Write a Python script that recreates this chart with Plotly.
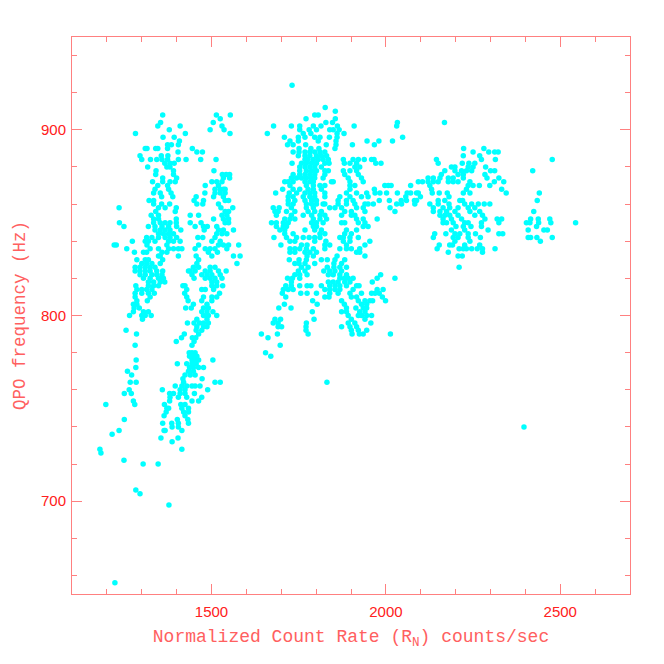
import plotly.graph_objects as go

# Each row: (QPO frequency in Hz, [normalized count rates])
left_upper = [
(908,[1360,1514,1554]),(906,[1525]),(904,[1354,1505]),(902,[1346,1410,1530]),(900,[1379,1496,1536]),
(898,[1282,1425,1553]),(896,[1361,1393]),(894,[1408]),(892,[1374,1385,1405]),(890,[1374,1310,1315,1340,1346,1445]),
(888,[1404,1458,1474]),(886,[1295,1356,1375]),(884,[1300,1325,1343,1358,1374,1405,1427,1469,1513]),(882,[1366,1381,1393]),
(880,[1317,1372,1381]),(878,[1341,1391,1507]),(876,[1340,1391,1531,1542,1552]),(874,[1360,1400,1534,1552]),
(872,[1331,1360,1381,1396,1501,1515,1530]),(870,[1346,1374,1482,1520]),(868,[1338,1377,1510,1525,1534,1539]),
(866,[1334,1353,1384,1481,1510,1525,1539]),(864,[1357,1389,1506,1534,1456]),(862,[1321,1334,1450,1477,1539,1549]),
(860,[1334,1357,1380,1458,1475,1520]),(858,[1235,1348,1367,1399,1527,1561]),(856,[1340,1396,1539,1549]),
(854,[1327,1348,1439,1463,1530,1544]),(852,[1334,1348,1399,1506,1534,1549]),
(850,[1236,1334,1353,1367,1381,1399,1470,1439,1539,1549]),(848,[1249,1319,1338,1358,1377,1400,1453,1477,1488,1515]),
(846,[1338,1353,1367,1381,1412,1479,1520,1534,1563]),(844,[1348,1362,1377,1391,1515,1530,1544]),
(842,[1314,1329,1348,1367,1381,1400,1461,1475,1510]),(840,[1310,1319,1338,1377,1391,1410,1273,1501,1525]),
(838,[1221,1227,1315,1372,1463,1520,1534,1549,1578]),(836,[1257,1324,1348,1377,1391,1405,1415,1453,1482,1496,1510,1544]),
(834,[1279,1305,1314,1358,1372,1491,1517]),(832,[1348,1353,1405,1501,1456,1563,1582]),(830,[1310,1319,1360,1286,1463]),
(828,[1300,1314,1329,1353,1458,1573]),(826,[1281,1295,1310,1324,1338,1448,1463,1496,1510]),(824,[1360,1439,1482,1542]),
]
left_lower = [
(824,[1281,1295,1310,1324,1343,1434,1453,1496,1520]),(822,[1295,1310,1329,1343,1358,1444,1472,1487,1501,1525]),
(820,[1305,1324,1348,1362,1450,1482,1496,1510,1530]),(818,[1319,1334,1353,1366,1501,1515]),
(816,[1283,1319,1334,1348,1418,1424,1501,1515,1532]),(814,[1286,1300,1314,1329,1429,1472,1482,1506]),
(812,[1281,1300,1319,1336,1423,1523]),(810,[1281,1324,1429,1477,1501,1515]),(808,[1286,1316,1433,1472,1501]),
(806,[1276,1286,1448,1487]),(804,[1278,1293,1426,1442,1477,1491]),(802,[1276,1305,1319,1472,1487,1504]),
(800,[1265,1300,1310,1327,1477,1491,1515]),(798,[1302,1458,1487]),(796,[1431,1450,1466,1477,1491]),(794,[1458,1477,1487]),
(792,[1255,1456,1472]),(790,[1285,1422,1463]),(788,[1414,1445,1455]),(786,[1399,1450]),(784,[1281,1444]),
(780,[1436,1444,1453]),(778,[1437,1448,1458]),(776,[1284,1444,1453,1463,1504]),(774,[1402,1429,1444,1456]),
(772,[1283,1437,1448,1463,1477]),(770,[1259,1434,1448]),(768,[1271,1424,1439,1453]),(766,[1418,1473]),
(764,[1267,1284,1420,1510,1525]),(762,[1396,1415,1429,1444,1453,1467]),(760,[1264,1359,1410,1424,1489]),
(758,[1250,1270,1380,1391,1410,1424,1451]),(756,[1381,1405,1429,1472]),(754,[1276,1380,1444,1463]),
(752,[1280,1197,1365,1412,1424]),(750,[1372,1377,1415,1434]),(748,[1370,1420,1434]),(746,[1364,1424]),
(744,[1250,1402,1432]),(742,[1360,1386,1405,1434]),(740,[1405,1387]),(738,[1235,1367,1364,1415]),
(736,[1215]),(734,[1355,1404]),(732,[1387]),(728,[1180,1415]),(726,[1183]),(722,[1249]),(720,[1304,1347]),
(706,[1283]),(704,[1295]),(698,[1378]),(656,[1223]),
]
middle_upper = [
(924,[1731]),(912,[1826]),(910,[1855]),(908,[1796,1806]),(906,[1771,1855]),(904,[1828,1847,2033]),
(902,[1678,1729,1753,1792,1814,1861,1909,2031]),(900,[1753,1780,1801,1839,1849,1866]),(898,[1660,1763,1785,1860,1880]),
(896,[1709,1749,1768,1796,1811,1838,1860,2048]),(894,[1725,1749,1806,1857,1946,1980,2019]),
(892,[1718,1734,1770,1829,1857,1904,1967]),(890,[1751,1785,1808,1854]),(888,[1734,1751,1768,1782,1796,1811,1825]),
(886,[1749,1768,1782,1801,1815,1830]),(884,[1768,1777,1792,1806,1820,1835,1878,1906,1921,1938,1959,1966]),
(882,[1731,1758,1772,1787,1801,1825,1837,1881,1897,1916,1971,1986]),(880,[1753,1768,1782,1796,1815,1911,1925]),
(878,[1753,1772,1787,1801,1825,1835,1878,1897,1916]),(876,[1734,1753,1768,1782,1796,1825,1882,1921]),
(874,[1729,1744,1758,1772,1787,1796,1820,1892,1930]),(872,[1710,1720,1734,1768,1782,1792,1844,1849,1897,1935]),
(870,[1725,1772,1792,1811,1825,1897,1911,1997,2007,2015]),(868,[1704,1734,1753,1777,1792,1815,1897,1967]),
(866,[1684,1723,1744,1768,1782,1796,1825,1887,1916,1945,1969,1983,2002,2033,2071,2093]),
(864,[1720,1734,1763,1782,1796,1825,1868,1897,1930,1949]),
(862,[1720,1739,1768,1787,1801,1863,1887,1906,1981,2010,2059,2088]),
(860,[1720,1734,1772,1787,1801,1820,1825,1863,1887,1911,1940,1949,1964,2031,2045,2083]),
(858,[1677,1694,1729,1772,1792,1839,1854,1873,1916,1935,2012]),(856,[1682,1691,1715,1739,1777,1796,1815,1882,1901,1940,2026]),
(854,[1686,1729,1763,1787,1811,1825,1873,1901,1911]),(852,[1710,1725,1739,1792,1811,1830,1916,1935,1975]),
(850,[1672,1686,1706,1720,1787,1801,1820,1873,1882,1921,1940]),(848,[1686,1706,1715,1792,1801,1935,1949]),
(846,[1696,1710,1768,1796,1815,1887,1916]),(844,[1710,1734,1811,1825,1882,1901]),
(842,[1679,1715,1744,1763,1780,1796,1811,1868,1878,1897,1921]),(840,[1725,1739,1796,1828,1878,1897,1954]),
(838,[1699,1758,1774,1825,1839,1940,1887]),
]
middle_lower = [
(836,[1725,1739,1753,1772,1792,1825,1868,1887,1901,1925]),(834,[1725,1739,1768,1782,1801,1916,1925]),
(832,[1774,1792,1860,1940]),(830,[1723,1751,1772,1815,1832,1854,1882]),(828,[1739,1751,1768,1796,1851,1873]),
(826,[1758,1777,1832,1851,1868,1887]),(824,[1749,1768,1822,1839,1854,1873]),(822,[1739,1753,1774,1835,1849,1868,1887,1985]),
(820,[1718,1732,1753,1868,1881,1892,1906,1975,2026]),(818,[1729,1835,1849,1863,1882,1897,1961]),
(816,[1713,1729,1753,1774,1785,1815,1839,1854,1868,1887,1916,1923]),(814,[1706,1720,1734,1825,1839,1854,1868,1906,1975,1992]),
(812,[1703,1756,1774,1801,1839,1863,1897,1930,1959,1969,1981]),(810,[1713,1825,1837,1901,1916,1990]),
(808,[1790,1873,1921,1940,1954,1962,1999]),(806,[1709,1803,1881,1930,1945]),(804,[1693,1728,1887,1914,1935,1945]),
(802,[1789,1873,1887,1925,1940]),(800,[1892,1921,1930,1945,1959]),(798,[1682,1698,1794,1901,1940]),
(796,[1677,1691,1772,1892,1911,1957]),(794,[1691,1701,1771,1873,1897,1916]),(792,[1771,1901,1921,1945]),
(790,[1643,1689,1777,1903,1924,1935,2013]),(788,[1662]),(784,[1697]),(780,[1655]),(778,[1670]),(764,[1831]),
]
right_group = [
(904,[2168]),(890,[2223,2281]),(888,[2250,2295,2312,2322]),(886,[2222,2269]),(884,[2145,2274,2314,2477]),
(882,[2150,2219,2238,2255]),(880,[2188,2198,2236,2250,2286]),(878,[2169,2198,2217,2231,2246,2300,2312,2421]),
(876,[2159,2207,2222,2284]),(874,[2121,2136,2155,2179,2193,2222,2290,2324]),
(872,[2093,2105,2121,2136,2150,2179,2193,2207,2241,2311,2338]),(870,[2071,2126,2236,2250,2268,2298]),(868,[2131,2231,2332]),
(866,[2061,2088,2133,2153,2176,2222,2241,2345,2440]),(864,[2057,2099,2181]),(862,[2044,2082,2150,2169,2212,2220,2434]),
(860,[2126,2150,2181,2226,2246,2265,2282,2298]),(858,[2136,2164,2183,2207,2236,2255]),
(856,[2136,2155,2174,2198,2241,2269,2424]),(854,[2155,2169,2183,2207,2255,2277]),
(852,[2164,2188,2217,2284,2319,2332,2415,2437,2470]),(850,[2164,2174,2193,2226,2236,2274,2324,2403,2413,2438,2473,2544]),
(848,[2201,2222,2244,2274,2432]),(846,[2188,2226,2293,2408,2453,2463]),(844,[2140,2172,2198,2212,2236,2257,2324,2335]),
(842,[2136,2193,2207,2236,2271,2408,2415,2433,2477]),(840,[2198,2241,2443]),(838,[2153,2183,2191,2226,2269]),
(836,[2147,2210,2222,2231,2246,2262,2277,2313]),(834,[2179,2277]),(832,[2207,2219]),(826,[2210]),(740,[2396]),
]

X_TITLE = "Normalized Count Rate (R<sub>N</sub>) counts/sec"
Y_TITLE = "QPO frequency (Hz)"

rates, freqs = [], []
for group in (left_upper, left_lower, middle_upper, middle_lower, right_group):
    for f, xs in group:
        for r in xs:
            rates.append(r)
            freqs.append(f)

FRAME = "#ff8080"
TEXT = "#ff2020"
TITLE = "#ff6060"

fig = go.Figure(go.Scatter(x=rates, y=freqs, mode="markers",
                           marker=dict(color="#00ffff", size=5.5, line=dict(width=0))))
common = dict(showgrid=False, zeroline=False, showline=True, linecolor=FRAME, linewidth=1,
              mirror="ticks", ticks="inside", tickcolor=FRAME, tickwidth=1, ticklen=10,
              tickfont=dict(family="Liberation Sans", size=15, color=TEXT))
fig.update_xaxes(range=[1100, 2700], tick0=0, dtick=500, ticklabelstandoff=4,
                 minor=dict(dtick=100, tick0=0, ticks="inside", ticklen=5, tickcolor=FRAME, tickwidth=1, showgrid=False),
                 title=dict(text=X_TITLE, standoff=10, font=dict(family="Liberation Mono", size=18, color=TITLE)),
                 **common)
fig.update_yaxes(range=[650, 950], tick0=0, dtick=100, ticklabelstandoff=2,
                 minor=dict(dtick=20, tick0=0, ticks="inside", ticklen=5, tickcolor=FRAME, tickwidth=1, showgrid=False),
                 title=dict(text=Y_TITLE, standoff=10, font=dict(family="Liberation Mono", size=17.5, color=TITLE)),
                 **common)
fig.update_layout(width=664, height=664, margin=dict(l=64, r=42, t=29, b=78, autoexpand=False),
                  paper_bgcolor="white", plot_bgcolor="white", showlegend=False)
fig.write_html("out.html")
